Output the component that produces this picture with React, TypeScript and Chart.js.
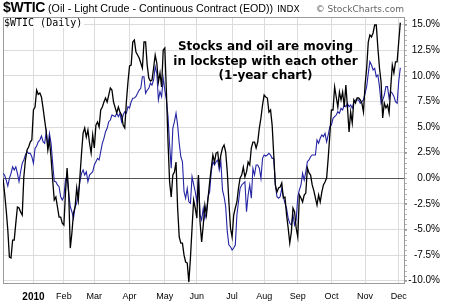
import React, { useEffect, useRef } from 'react';
import { Chart, registerables } from 'chart.js';

Chart.register(...registerables);

// Percent change since the start of the window, one value per trading day (day 0 = early Dec 2009)
const oilPct = [
  0, -1.44, -3.1, -5.05, -7.69, -7.78, -6.03, -6.03, -4.37, -2.8,
  -2.9, -3.29, -3.58, 0.13, 1.79, 2.76, 3.06, 3.54, 3.74, 6.67,
  6.96, 8.62, 8.2, 8.33, 7.94, 6.86, 5.69, 4.52, 2.76, 3.74,
  2.0, -0.17, -2.12, -1.83, -2.8, -3.78, -3.78, -4.37, -4.56, -1.44,
  1.01, -1.44, -6.81, -5.34, -3.39, -2.8, -0.95, -2.12, 0.13, 2.4,
  4.42, 4.91, 4.03, 4.72, 3.45, 2.47, 4.23, 2.96, 5.2, 5.5,
  5.01, 6.67, 6.96, 7.45, 7.84, 7.45, 8.13, 8.82, 8.62, 7.45,
  6.9, 6.38, 6.96, 6.47, 6.18, 5.2, 4.91, 7.45, 9.4, 10.97,
  11.06, 13.31, 13.5, 12.33, 12.04, 11.75, 11.26, 10.77, 13.31, 13.31,
  11.06, 9.79, 9.5, 9.6, 10.77, 12.04, 11.26, 9.4, 10.28, 8.92,
  12.53, 12.72, 8.43, 3.54, -0.36, -1.83, 0.32, 0.62, 1.59, -2.9,
  -5.73, -6.32, -6.32, -7.5, -8.17, -8.27, -10.13, -7.78, -4.85, -2.12,
  -2.9, -3.88, 0.32, -4.27, -6.22, -4.56, -2.61, -3.58, -1.92, -0.36,
  1.01, 2.28, 1.59, 2.47, 2.57, 1.3, 2.28, 2.96, 3.25, 2.57,
  0.62, -2.31, -4.85, -5.73, -3.58, -2.9, -2.31, -0.95, 0.03, 0.32,
  1.1, 0.13, 0.62, 1.59, 1.3, 2.96, 3.54, 3.54, 2.96, 3.54,
  4.91, 5.89, 7.16, 8.13, 7.94, 7.84, 6.47, 6.67, 5.2, 2.28,
  -0.65, -1.34, -0.95, -0.85, -0.46, -1.92, -1.83, -3.58, -4.85, -6.32,
  -5.24, -2.9, -3.29, -4.85, -5.73, -1.63, -1.92, -2.31, -1.63, -1.44,
  1.01, 0.52, 0.32, -0.65, -1.2, -1.92, -2.61, -1.63, -2.31, -1.34,
  -0.65, -0.36, 0.03, 1.98, 4.23, 6.67, 6.67, 8.92, 7.94, 6.96,
  8.43, 7.65, 8.43, 6.96, 9.11, 6.96, 4.52, 6.47, 5.4, 7.65,
  7.35, 7.84, 7.84, 7.65, 7.35, 6.47, 9.11, 10.77, 13.31, 14.0,
  13.8, 14.19, 14.97, 14.97, 12.72, 10.77, 9.4, 5.89, 7.35, 6.87,
  7.16, 6.38, 8.82, 11.06, 10.28, 11.36, 11.36, 13.31, 15.2,
];

const spxPct = [
  0.49, 0.32, -0.17, -0.75, 0, 0.49, 1.13, 0.81, 1.13, 0.49,
  -0.33, 0.64, 1.46, 1.79, 2.28, 2.6, 2.44, 2.44, 2.11, 1.46,
  2.93, 3.15, 3.57, 3.74, 4.13, 3.57, 3.42, 4.55, 3.09, 4.39,
  3.42, 1.46, -0.3, -0.33, -0.65, -0.82, -1.8, -2.12, -1.8, -0.1,
  0.16, -1.46, -2.77, -3.26, -3.91, -2.77, -2.44, -1.46, -0.33, 0.49,
  0.81, 0.32, 0.64, -0.33, 0.32, 0.49, 0.64, 1.3, 1.62, 1.95,
  1.79, 2.6, 3.42, 3.9, 4.55, 4.88, 5.53, 5.69, 6.18, 6.1,
  6.02, 6.35, 6.02, 6.35, 5.53, 6.18, 6.5, 6.35, 6.99, 6.87,
  7.48, 7.81, 7.84, 8.0, 8.3, 8.62, 8.79, 9.92, 9.92, 8.3,
  8.6, 8.79, 9.3, 9.11, 9.6, 10.9, 10.25, 7.65, 8.46, 7.97,
  9.77, 8.62, 7.65, 6.02, 3.25, 0.98, 4.88, 5.53, 6.35, 5.2,
  3.42, 2.11, 1.62, -1.31, -1.95, -0.98, -2.29, -2.44, 0.16, -0.6,
  -1.31, -2.29, 0.16, -3.58, -4.07, -2.93, -3.91, -3.26, -1.8, -1.31,
  0.64, 1.62, 1.3, 1.62, 1.79, 0.81, 1.62, -1.14, -1.8, -2.77,
  -5.21, -6.51, -6.68, -7.0, -6.8, -6.51, -3.58, -2.29, -0.98, -0.65,
  -0.49, -0.33, -3.26, -1.63, -0.65, -1.95, 0.98, 0.32, 1.3, 1.3,
  0.98, 0, 1.95, 2.28, 2.18, 2.28, 2.44, 2.28, 1.95, 1.95,
  -0.65, -1.8, -1.95, -1.8, -0.98, -1.8, -2.44, -2.93, -3.91, -4.39,
  -4.56, -3.58, -4.56, -4.07, -1.8, -1.14, -0.65, 0.49, -0.17, 0.64,
  1.62, 1.79, 2.11, 2.28, 2.28, 2.28, 3.74, 3.42, 3.91, 4.23,
  4.06, 4.39, 3.57, 4.23, 5.04, 5.2, 5.86, 6.02, 6.18, 6.5,
  6.35, 6.84, 6.67, 7.16, 6.99, 7.32, 6.99, 7.16, 6.84, 7.48,
  7.65, 7.65, 7.65, 7.32, 7.48, 7.65, 8.3, 8.95, 10.25, 11.39,
  11.06, 10.58, 10.74, 9.92, 10.09, 8.95, 7.32, 7.65, 8.13, 8.95,
  8.95, 7.81, 8.46, 8.3, 8.0, 7.48, 7.32, 9.43, 10.8,
];

// Trading-day index of the first session of each month
const monthStartDays = [19, 38, 57, 79, 101, 121, 143, 163, 184, 205, 226, 247];
const monthLabels = ['2010', 'Feb', 'Mar', 'Apr', 'May', 'Jun', 'Jul', 'Aug', 'Sep', 'Oct', 'Nov', 'Dec'];
const yTicks = [-10, -7.5, -5, -2.5, 0, 2.5, 5, 7.5, 10, 12.5, 15];
const yMin = -10.22;
const yMax = 15.75;
const xMax = 250.3;

const SANS = '"Liberation Sans", Arial, sans-serif';

const framePlugin = {
  id: 'frame',
  beforeDatasetsDraw(chart: any) {
    const { ctx, chartArea: a, scales } = chart;
    ctx.save();
    ctx.strokeStyle = '#9a9a9a';
    ctx.lineWidth = 1;
    ctx.strokeRect(Math.round(a.left) + 0.5, Math.round(a.top) + 0.5, Math.round(a.right - a.left), Math.round(a.bottom - a.top));
    const ys = scales.y;
    ctx.strokeStyle = '#b5b5b5';
    for (let v = -10; v <= 15.5; v += 0.5) {
      const py = Math.round(ys.getPixelForValue(v)) + 0.5;
      ctx.beginPath();
      ctx.moveTo(a.right + 1, py);
      ctx.lineTo(a.right + 3, py);
      ctx.stroke();
    }
    ctx.restore();
  },
};

export default function App() {
  const ref = useRef<HTMLCanvasElement>(null);

  useEffect(() => {
    const chart = new Chart(ref.current as HTMLCanvasElement, {
      type: 'line',
      data: {
        datasets: [
          {
            label: '$WTIC',
            data: oilPct.map((v, i) => ({ x: i, y: v })),
            borderColor: '#000000',
            borderWidth: 1.3,
            pointRadius: 0,
            tension: 0,
          },
          {
            label: '$SPX',
            data: spxPct.map((v, i) => ({ x: i, y: v })),
            borderColor: '#2323a3',
            borderWidth: 1.1,
            pointRadius: 0,
            tension: 0,
          },
        ],
      },
      options: {
        animation: false,
        responsive: false,
        devicePixelRatio: 1,
        events: [],
        layout: { padding: { left: 3, top: 17, right: 17, bottom: 0 } },
        plugins: { legend: { display: false }, tooltip: { enabled: false } },
        scales: {
          x: {
            type: 'linear',
            min: 0,
            max: xMax,
            afterBuildTicks: (s: any) => {
              s.ticks = monthStartDays.map((v) => ({ value: v }));
            },
            afterFit: (s: any) => {
              s.height = 23;
            },
            grid: { color: '#dcdcdc', drawTicks: false },
            border: { display: true, color: '#9a9a9a' },
            ticks: {
              autoSkip: false,
              maxRotation: 0,
              padding: 8,
              color: '#000',
              callback: (_v: any, i: number) => monthLabels[i],
              font: (c: any) =>
                c.index === 0
                  ? { family: SANS, size: 10, weight: 'bold' }
                  : { family: SANS, size: 9 },
            },
          },
          y: {
            type: 'linear',
            position: 'right',
            min: yMin,
            max: yMax,
            afterBuildTicks: (s: any) => {
              s.ticks = yTicks.map((v) => ({ value: v }));
            },
            afterFit: (s: any) => {
              s.width = 36;
            },
            grid: {
              color: (c: any) => (c.tick && c.tick.value === 0 ? '#555555' : '#dcdcdc'),
              drawTicks: true,
              tickLength: 3,
              tickColor: '#9a9a9a',
            },
            border: { display: true, color: '#9a9a9a' },
            ticks: {
              color: '#000',
              padding: 1,
              crossAlign: 'far',
              font: { family: SANS, size: 10 },
              callback: (v: any) => Number(v).toFixed(1) + '%',
            },
          },
        },
      },
      plugins: [framePlugin],
    } as any);
    return () => chart.destroy();
  }, []);

  return (
    <div style={{ position: 'absolute', left: 0, top: 0, width: 457, height: 306, background: '#fff', overflow: 'hidden' }}>
      <canvas ref={ref} width={457} height={306} style={{ position: 'absolute', left: 0, top: 0 }} />
      <div style={{ position: 'absolute', left: 3, top: 0, whiteSpace: 'nowrap', lineHeight: '14px', fontFamily: SANS, color: '#000' }}>
        <span style={{ fontSize: 14, fontWeight: 'bold', letterSpacing: -0.3 }}>$WTIC</span>
        <span style={{ fontSize: 10.7, marginLeft: 3 }}>(Oil - Light Crude - Continuous Contract (EOD))</span>
        <span style={{ fontSize: 9, marginLeft: 4, fontFamily: '"DejaVu Sans", Verdana, sans-serif' }}>INDX</span>
      </div>
      <div style={{ position: 'absolute', right: 53, top: 2, whiteSpace: 'nowrap', lineHeight: '14px', fontSize: 9, fontFamily: '"DejaVu Sans", Verdana, sans-serif', color: '#666' }}>
        © StockCharts.com
      </div>
      <div style={{ position: 'absolute', left: 4, top: 18, whiteSpace: 'nowrap', lineHeight: '10px', fontSize: 10, fontFamily: '"DejaVu Sans Mono", monospace', color: '#000', background: '#fff', paddingRight: 2 }}>
        $WTIC (Daily)
      </div>
      <div style={{ position: 'absolute', left: 160, width: 211, top: 39, textAlign: 'center', lineHeight: '14.6px', fontSize: 12, fontWeight: 'bold', fontFamily: '"DejaVu Sans", Verdana, sans-serif', color: '#000' }}>
        Stocks and oil are moving<br />in lockstep with each other<br />(1-year chart)
      </div>
    </div>
  );
}
